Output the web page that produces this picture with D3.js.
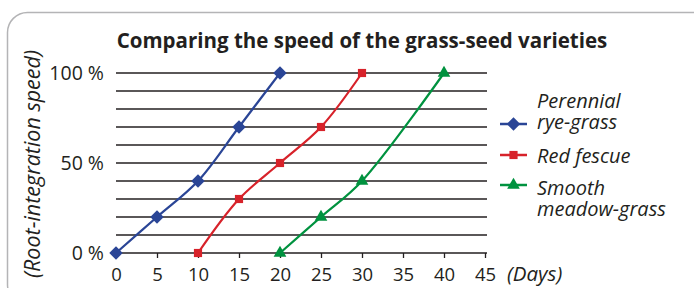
<!DOCTYPE html>
<html>
<head>
<meta charset="utf-8">
<script src="https://cdn.jsdelivr.net/npm/d3@7"></script>
<style>
  body{margin:0;background:#fff}
  svg text{font-family:"Open Sans",sans-serif;fill:#231f20}
</style>
</head>
<body>
<script>
var xTicks = [0,5,10,15,20,25,30,35,40,45]
var yTicks = [0,50,100]
var yGrid = [0,10,20,30,40,50,60,70,80,90,100]
var seriesNames = [["Perennial","rye-grass"],["Red fescue"],["Smooth","meadow-grass"]]
var ryeGrass = [[0,0],[5,20],[10,40],[15,70],[20,100]]
var redFescue = [[10,0],[15,30],[20,50],[25,70],[30,100]]
var meadowGrass = [[20,0],[25,20],[30,40],[40,100]]

initChart()
function initChart(){
  var width = 694
  var height = 288
  var colors = ["#2a4596","#d7222a","#00923f"]
  var symbols = [d3.symbolDiamond2, d3.symbolSquare2, d3.symbolTriangle2]
  var symSize = [115,85,115]
  var data = [ryeGrass, redFescue, meadowGrass]

  var svg = d3.select("body").append("svg")
      .attr("width",width)
      .attr("height",height)

  // frame, runs off the right and bottom edge
  svg.append("rect")
    .attr("x",7.5).attr("y",12.5)
    .attr("width",710).attr("height",292)
    .attr("rx",20)
    .attr("fill","none").attr("stroke","#b4b4b6").attr("stroke-width",1.5)

  var x = d3.scaleLinear().domain([0,45]).range([116,485])
  var y = d3.scaleLinear().domain([0,100]).range([253,73])

  svg.append("text")
    .text("Comparing the speed of the grass-seed varieties")
    .attr("x",362).attr("y",48)
    .attr("text-anchor","middle")
    .attr("font-size",20.5).attr("font-weight",700)

  svg.append("g").selectAll("line")
    .data(yGrid).enter().append("line")
    .attr("x1",x(0)).attr("x2",487)
    .attr("y1",function(d){return y(d)}).attr("y2",function(d){return y(d)})
    .attr("stroke","#231f20").attr("stroke-width",1.3)

  svg.append("g")
    .attr("transform","translate(0,"+y(0)+")")
    .call(d3.axisBottom(x).tickValues(xTicks).tickSize(5).tickPadding(10))
    .call(function(g){
      g.select(".domain").remove()
      g.selectAll("line").attr("stroke","#231f20").attr("stroke-width",1.3)
      g.selectAll("text").attr("font-size",18.5).attr("font-family",null)
    })

  svg.append("g")
    .attr("transform","translate(104,0)")
    .call(d3.axisLeft(y).tickValues(yTicks).tickSize(0).tickPadding(0).tickFormat(function(d){return d+" %"}))
    .call(function(g){
      g.select(".domain").remove()
      g.selectAll("text").attr("font-size",19.5).attr("font-family",null)
    })

  svg.append("text")
    .text("(Days)")
    .attr("x",507).attr("y",281)
    .attr("font-size",20.5).attr("font-style","italic")

  svg.append("text")
    .text("(Root-integration speed)")
    .attr("transform","translate(40,164) rotate(-90)")
    .attr("text-anchor","middle")
    .attr("font-size",21.5).attr("font-style","italic")

  var line = d3.line()
    .x(function(d){return x(d[0])})
    .y(function(d){return y(d[1])})
    .curve(d3.curveCatmullRom.alpha(0.5))

  for(var i=0; i<data.length; i++){
    svg.append("path")
      .attr("d",line(data[i]))
      .attr("fill","none").attr("stroke",colors[i]).attr("stroke-width",2.2)

    svg.append("g").selectAll("path")
      .data(data[i]).enter().append("path")
      .attr("d",d3.symbol().type(symbols[i]).size(symSize[i]))
      .attr("transform",function(d){return "translate("+x(d[0])+","+y(d[1])+")"})
      .attr("fill",colors[i])
  }

  // legend: marker row y, then baseline of the first text row
  var legY = [124,155,185]
  var legText = [-16,8,10]
  for(var i=0; i<data.length; i++){
    var lg = svg.append("g").attr("transform","translate(0,"+legY[i]+")")
    lg.append("line")
      .attr("x1",500).attr("x2",527).attr("y1",0).attr("y2",0)
      .attr("stroke",colors[i]).attr("stroke-width",2.5)
    lg.append("path")
      .attr("d",d3.symbol().type(symbols[i]).size(symSize[i]))
      .attr("transform","translate(513.5,0)")
      .attr("fill",colors[i])
    lg.append("text")
      .attr("y",legText[i])
      .attr("font-size",20).attr("font-style","italic")
      .selectAll("tspan").data(seriesNames[i]).enter().append("tspan")
      .attr("x",537)
      .attr("dy",function(d,j){return j==0?0:20.5})
      .text(function(d){return d})
  }
}
</script>
</body>
</html>
